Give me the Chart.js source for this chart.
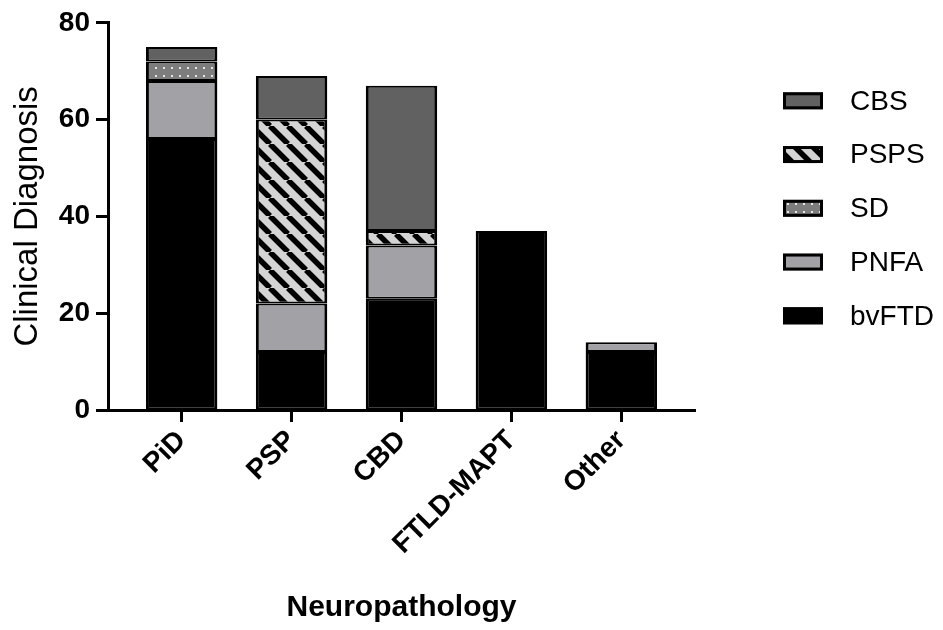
<!DOCTYPE html>
<html lang="en">
<head>
<meta charset="UTF-8">
<title>Clinical Diagnosis by Neuropathology</title>
<script src="https://cdn.jsdelivr.net/npm/chart.js@4.4.1/dist/chart.umd.min.js"></script>
<style>
  html, body { margin: 0; padding: 0; background: #fff; }
  #wrap { width: 943px; height: 630px; position: relative; }
</style>
</head>
<body>
<div id="wrap"><canvas id="chart"></canvas></div>
<script>
// categories along the x axis
const categories = ['PiD', 'PSP', 'CBD', 'FTLD-MAPT', 'Other'];
const yTicks = [0, 20, 40, 60, 80];

// counts per clinical diagnosis (stacked bottom to top)
const bvFTD = [56, 12, 23, 37, 12];
const PNFA  = [12, 10, 11, 0, 2];
const SD    = [4, 0, 0, 0, 0];
const PSPS  = [0, 38, 3, 0, 0];
const CBS   = [3, 9, 30, 0, 0];

// fill patterns
function hatchPattern() {
    const s = 18;
    const c = document.createElement('canvas');
    c.width = s; c.height = s;
    const g = c.getContext('2d');
    g.fillStyle = '#d4d4d4';
    g.fillRect(0, 0, s, s);
    g.strokeStyle = '#000';
    g.lineWidth = 5.5;
    g.beginPath();
    for (let k = -1; k <= 1; k++) {
        g.moveTo(k * s, 0);
        g.lineTo(k * s + s, s);
    }
    g.stroke();
    return g.createPattern(c, 'repeat');
}

function dotPattern() {
    const s = 8;
    const c = document.createElement('canvas');
    c.width = s; c.height = s;
    const g = c.getContext('2d');
    g.fillStyle = '#7d7d7d';
    g.fillRect(0, 0, s, s);
    g.fillStyle = '#e6e6e6';
    g.fillRect(3, 3, 2, 2);
    return g.createPattern(c, 'repeat');
}

const FONT = '"Liberation Sans", Arial, sans-serif';
Chart.defaults.color = '#000';
Chart.defaults.font.family = FONT;

function series(label, values, fill) {
    return {
        label: label,
        data: values.map((v, i) => ({ x: i, y: v })),
        backgroundColor: fill,
        borderColor: '#000',
        borderWidth: { top: 2, bottom: 2, left: 3, right: 3 },
        borderSkipped: false,
        barPercentage: 0.65,
        categoryPercentage: 1.0
    };
}

const datasets = [
    series('bvFTD', bvFTD, '#000000'),
    series('PNFA', PNFA, '#a2a1a6'),
    series('SD', SD, dotPattern()),
    series('PSPS', PSPS, hatchPattern()),
    series('CBS', CBS, '#616161')
];

// legend drawn at the right, top entry first (reverse of stack order)
const sideLegend = {
    id: 'sideLegend',
    afterDraw(chart) {
        const ctx = chart.ctx;
        const area = chart.chartArea;
        const sets = chart.data.datasets.slice().reverse();
        ctx.save();
        sets.forEach((ds, i) => {
            const cy = area.top + 78 + i * 53.75;
            const bx = area.right + 88;
            const bw = 40, bh = 17;
            ctx.fillStyle = ds.backgroundColor;
            ctx.fillRect(bx, cy - bh / 2, bw, bh);
            ctx.lineWidth = 3;
            ctx.strokeStyle = '#000';
            ctx.strokeRect(bx + 1.5, cy - bh / 2 + 1.5, bw - 3, bh - 3);
            ctx.fillStyle = '#000';
            ctx.font = '28px ' + FONT;
            ctx.textBaseline = 'middle';
            ctx.textAlign = 'left';
            ctx.fillText(ds.label, bx + 67, cy + 1);
        });
        ctx.restore();
    }
};

new Chart(document.getElementById('chart').getContext('2d'), {
    type: 'bar',
    data: { datasets: datasets },
    options: {
        responsive: true,
        maintainAspectRatio: false,
        animation: false,
        layout: { padding: { top: 20, right: 248, left: 0, bottom: 0 } },
        plugins: {
            legend: { display: false },
            tooltip: { enabled: false }
        },
        scales: {
            x: {
                type: 'linear',
                stacked: true,
                offset: false,
                min: -0.67,
                max: 4.67,
                afterBuildTicks: (scale) => {
                    scale.ticks = categories.map((_, i) => ({ value: i }));
                },
                afterFit: (scale) => { scale.height = 220; },
                ticks: {
                    autoSkip: false,
                    maxRotation: 45,
                    minRotation: 45,
                    padding: 2,
                    font: { size: 28, weight: 'bold' },
                    callback: (v) => categories[v]
                },
                grid: {
                    offset: false,
                    drawOnChartArea: false,
                    drawTicks: true,
                    tickLength: 12,
                    tickWidth: 3,
                    tickColor: '#000'
                },
                border: { display: true, color: '#000', width: 3 },
                title: {
                    display: true,
                    text: 'Neuropathology',
                    font: { size: 30, weight: 'bold' },
                    padding: { top: 0, bottom: 4 }
                }
            },
            y: {
                stacked: true,
                min: 0,
                max: 80,
                afterBuildTicks: (scale) => {
                    scale.ticks = yTicks.map(v => ({ value: v }));
                },
                afterFit: (scale) => { scale.width = 108; },
                ticks: {
                    padding: 6,
                    font: { size: 28, weight: 'bold' }
                },
                grid: {
                    drawOnChartArea: false,
                    drawTicks: true,
                    tickLength: 12,
                    tickWidth: 3,
                    tickColor: '#000'
                },
                border: { display: true, color: '#000', width: 3 },
                title: {
                    display: true,
                    text: 'Clinical Diagnosis',
                    font: { size: 33 },
                    padding: { top: 8, bottom: 0 }
                }
            }
        }
    },
    plugins: [sideLegend]
});
</script>
</body>
</html>
